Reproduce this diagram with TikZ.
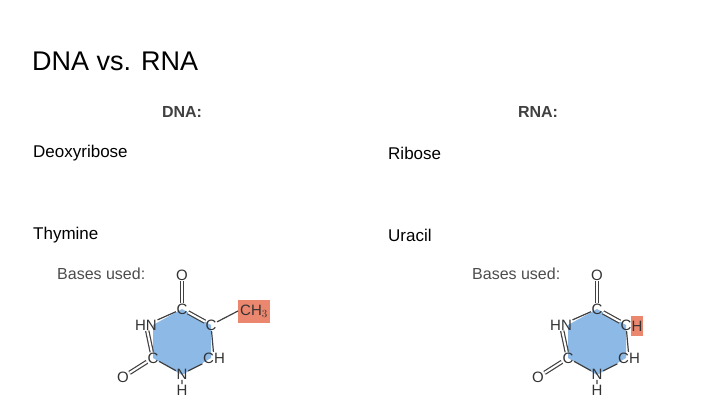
\documentclass[tikz,border=0pt]{standalone}
\usepackage{fontspec}
\setmainfont{Liberation Sans}
\begin{document}
\begin{tikzpicture}[x=1pt,y=-1pt,
 txt/.style={anchor=west,inner sep=0pt,font=\fontsize{17}{19}\selectfont},
 hdr/.style={inner sep=0pt,font=\fontsize{16}{18}\selectfont\bfseries,text=black!75},
 bases/.style={anchor=west,inner sep=0pt,font=\fontsize{16}{18}\selectfont,text=black!70},
 atom/.style={inner sep=0.5pt,font=\fontsize{15}{16}\selectfont,text=black!80},
 bond/.style={draw=black!75,line width=1.2pt}]
\useasboundingbox (0,0) rectangle (720,405);
\node[anchor=west,inner sep=0pt,font=\fontsize{27}{30}\selectfont] (title) at (32,61) {DNA vs. RNA};
\node[hdr] (hd) at (182,112) {DNA:};
\node[hdr] (hr) at (538,112) {RNA:};
\node[txt] (d1) at (33,153) {Deoxyribose};
\node[txt] (r1) at (388,153) {Ribose};
\node[txt] (d2) at (33,235) {Thymine};
\node[txt] (r2) at (388,235) {Uracil};
\foreach \s/\dx in {t/0, u/415}{
 \begin{scope}[xshift=\dx]
 \node[bases] (b\s) at (57,274) {Bases used:};
 \fill[fill={rgb,255:red,140;green,185;blue,230}] (182,309)--(211,325)--(211,358)--(182,375)--(153,358)--(153,325)--cycle;
 \node[atom] (o1\s) at (182,275) {O};
 \node[atom] (c1\s) at (182,309) {C};
 \node[atom] (c2\s) at (211,325) {C};
 \node[atom] (c3\s) at (214,358) {CH};
 \node[atom] (n1\s) at (182,374) {N};
 \node[atom] (h1\s) at (182,390) {H};
 \node[atom] (c4\s) at (153,358) {C};
 \node[atom] (n2\s) at (146,325) {HN};
 \node[atom] (o2\s) at (123,377) {O};
 \draw[bond,double=white,double distance=2pt] (o1\s)--(c1\s);
 \draw[bond,double=white,double distance=2pt] (c1\s)--(c2\s);
 \draw[bond] (c2\s)--(c3\s) (c3\s)--(n1\s) (n1\s)--(c4\s) (n2\s)--(c1\s) (n1\s)--(h1\s);
 \draw[bond,double=white,double distance=2pt] (c4\s)--(n2\s);
 \draw[bond,double=white,double distance=2pt] (c4\s)--(o2\s);
 \end{scope}
}
\node[atom,fill={rgb,255:red,235;green,135;blue,110},minimum height=23pt,inner sep=2pt] (ch3) at (254,311) {CH$_3$};
\draw[bond] (c2t)--(ch3.west);
\node[atom,fill={rgb,255:red,235;green,135;blue,110},minimum height=20pt,inner sep=1pt] (hu) at (637,326) {H};
\end{tikzpicture}
\end{document}
